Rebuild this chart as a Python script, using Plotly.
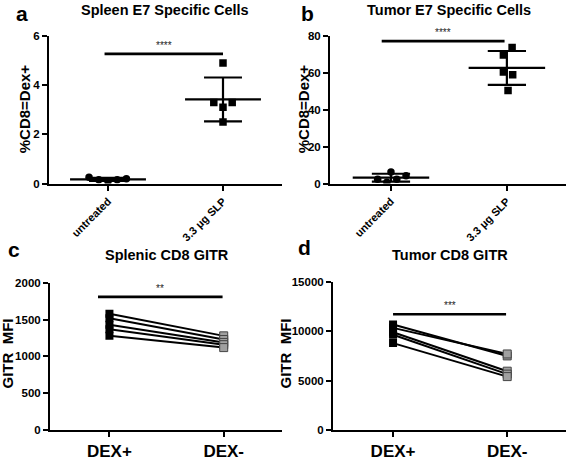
import numpy as np
import plotly.graph_objects as go

# ---------------- data ----------------
cats_top = ["untreated", "3.3 μg SLP"]
spleen_untreated = [0.26, 0.16, 0.09, 0.16, 0.20]
spleen_slp = [3.3, 4.9, 3.1, 2.5, 3.3]
tumor_untreated = [2.4, 0.7, 6.3, 2.4, 4.2]
tumor_slp = [69.6, 60.5, 50.4, 73.7, 59.0]

cats_bottom = ["DEX+", "DEX-"]
splenic_dexpos = [1580, 1520, 1430, 1370, 1280]
splenic_dexneg = [1280, 1230, 1190, 1160, 1120]
tumor_dexpos = [10700, 10350, 9900, 9650, 8800]
tumor_dexneg = [7500, 7700, 5950, 5650, 5400]

sig_a, sig_b, sig_c, sig_d = 5.27, 77.2, 1812, 11739
stars = ["****", "****", "**", "***"]
titles = ["Spleen E7 Specific Cells", "Tumor E7 Specific Cells",
          "Splenic CD8 GITR", "Tumor CD8 GITR"]
letters = ["a", "b", "c", "d"]
ytitles = ["%CD8=Dex+", "%CD8=Dex+", "GITR\u00a0 MFI", "GITR\u00a0 MFI"]

# ---------------- figure ----------------
W, H = 567, 461
FONT = "Liberation Sans, Arial, sans-serif"
fig = go.Figure()

def px_x(p):
    return p / W

def px_y(p):
    return 1 - p / H

# jitter used for scatter dot placement (style only)
jit_a_u = [-0.165, -0.08, 0.0, 0.08, 0.16]
jit_a_s = [-0.08, 0.0, 0.0, 0.0, 0.08]
jit_b_u = [-0.115, -0.035, 0.0, 0.05, 0.13]
jit_b_s = [-0.03, -0.03, 0.01, 0.045, 0.05]

def mean_sd(ax, yax, xc, vals, mean_half=0.33, cap_half=0.165):
    m = float(np.mean(vals))
    s = float(np.std(vals, ddof=1))
    lw = 2.2
    for xs, ys in [([xc - mean_half, xc + mean_half], [m, m]),
                   ([xc - cap_half, xc + cap_half], [m + s, m + s]),
                   ([xc - cap_half, xc + cap_half], [m - s, m - s]),
                   ([xc, xc], [m - s, m + s])]:
        fig.add_trace(go.Scatter(x=xs, y=ys, mode="lines", xaxis=ax, yaxis=yax,
                                 line=dict(color="black", width=lw),
                                 showlegend=False, hoverinfo="skip"))

def scatter_group(ax, yax, xc, vals, jit, symbol):
    fig.add_trace(go.Scatter(x=[xc + j for j in jit], y=vals, mode="markers",
                             xaxis=ax, yaxis=yax,
                             marker=dict(symbol=symbol, size=7.5, color="black"),
                             showlegend=False))

# panel a
scatter_group("x", "y", 0, spleen_untreated, jit_a_u, "circle")
scatter_group("x", "y", 1, spleen_slp, jit_a_s, "square")
mean_sd("x", "y", 0, spleen_untreated)
mean_sd("x", "y", 1, spleen_slp)
# panel b
scatter_group("x2", "y2", 0, tumor_untreated, jit_b_u, "circle")
scatter_group("x2", "y2", 1, tumor_slp, jit_b_s, "square")
mean_sd("x2", "y2", 0, tumor_untreated)
mean_sd("x2", "y2", 1, tumor_slp)

# paired panels
def paired(ax, yax, pos, neg):
    for a, b in zip(pos, neg):
        fig.add_trace(go.Scatter(x=[0, 1], y=[a, b], mode="lines", xaxis=ax, yaxis=yax,
                                 line=dict(color="black", width=2),
                                 showlegend=False))
    fig.add_trace(go.Scatter(x=[0] * len(pos), y=pos, mode="markers", xaxis=ax, yaxis=yax,
                             marker=dict(symbol="square", size=8, color="black"),
                             showlegend=False))
    fig.add_trace(go.Scatter(x=[1] * len(neg), y=neg, mode="markers", xaxis=ax, yaxis=yax,
                             marker=dict(symbol="square", size=8, color="#a0a0a0",
                                         line=dict(color="#444", width=1)),
                             showlegend=False))

paired("x3", "y3", splenic_dexpos, splenic_dexneg)
paired("x4", "y4", tumor_dexpos, tumor_dexneg)

# significance bars
sig_spans = [(-0.03, 1.0), (-0.08, 0.98), (-0.10, 0.99), (0.0, 0.99)]
sig_vals = [sig_a, sig_b, sig_c, sig_d]
axes = [("x", "y"), ("x2", "y2"), ("x3", "y3"), ("x4", "y4")]
annotations = []
for (ax, yax), (x0, x1), sv, st in zip(axes, sig_spans, sig_vals, stars):
    fig.add_trace(go.Scatter(x=[x0, x1], y=[sv, sv], mode="lines", xaxis=ax, yaxis=yax,
                             line=dict(color="black", width=2.6),
                             showlegend=False, hoverinfo="skip"))
    annotations.append(dict(x=(x0 + x1) / 2, y=sv, xref=ax, yref=yax, text=st,
                            showarrow=False, yanchor="bottom", yshift=1,
                            font=dict(family=FONT, size=10, color="#222")))

# axes geometry (pixels)
geo = [
    dict(x0=49, x1=282, y0=31, y1=184, xr=[-0.513, 1.513], yr=[0, 6], dt=2),
    dict(x0=330, x1=566, y0=31, y1=184, xr=[-0.526, 1.51], yr=[0, 80], dt=20),
    dict(x0=50, x1=282, y0=287, y1=439, xr=[-0.52, 1.51], yr=[0, 2000], dt=500),
    dict(x0=333, x1=566, y0=286, y1=439, xr=[-0.526, 1.515], yr=[0, 15000], dt=5000),
]
layout = dict(width=W, height=H, margin=dict(l=0, r=0, t=0, b=0),
              plot_bgcolor="white", paper_bgcolor="white",
              font=dict(family=FONT, color="black"), showlegend=False)
common = dict(showline=True, linecolor="black", linewidth=2, ticks="outside",
              ticklen=5, tickwidth=2, tickcolor="black", showgrid=False, zeroline=False)
for i, g in enumerate(geo):
    n = "" if i == 0 else str(i + 1)
    top = i < 2
    layout["xaxis" + n] = dict(
        domain=[px_x(g["x0"]), px_x(g["x1"])], range=g["xr"], anchor="y" + n,
        tickvals=[0, 1], ticktext=cats_top if top else cats_bottom,
        tickangle=-45 if top else 0,
        tickfont=dict(family=FONT, size=11 if top else 17, weight="bold", color="black"),
        **common)
    layout["yaxis" + n] = dict(
        domain=[px_y(g["y1"]), px_y(g["y0"])], range=g["yr"], anchor="x" + n,
        dtick=g["dt"], tick0=0, tickformat="d",
        tickfont=dict(family=FONT, size=11.5, weight="bold", color="black"),
        **common)

# letters, titles, y titles (pixel positions)
letter_pos = [(22, 8), (307, 8), (14, 252), (304, 250)]
title_pos = [(165, 4), (449, 4), (167, 258), (450, 258)]
ytitle_pos = [(24, 107), (303, 107), (8, 360), (286, 360)]
for i in range(4):
    lx, ly = letter_pos[i]
    annotations.append(dict(x=px_x(lx), y=px_y(ly), xref="paper", yref="paper",
                            text="<b>%s</b>" % letters[i], showarrow=False,
                            xanchor="center", yanchor="middle",
                            font=dict(family=FONT, size=21)))
    tx, ty = title_pos[i]
    annotations.append(dict(x=px_x(tx), y=px_y(ty), xref="paper", yref="paper",
                            text="<b>%s</b>" % titles[i], showarrow=False,
                            xanchor="center", yanchor="middle",
                            font=dict(family=FONT, size=14.5)))
    yx, yy = ytitle_pos[i]
    annotations.append(dict(x=px_x(yx), y=px_y(yy), xref="paper", yref="paper",
                            text="<b>%s</b>" % ytitles[i], showarrow=False, textangle=-90,
                            xanchor="center", yanchor="middle",
                            font=dict(family=FONT, size=15)))
layout["annotations"] = annotations

fig.update_layout(**layout)
fig.write_html("out.html", config={"displayModeBar": False},
               post_script="document.body.style.margin='0px';document.body.style.overflow='hidden';")
